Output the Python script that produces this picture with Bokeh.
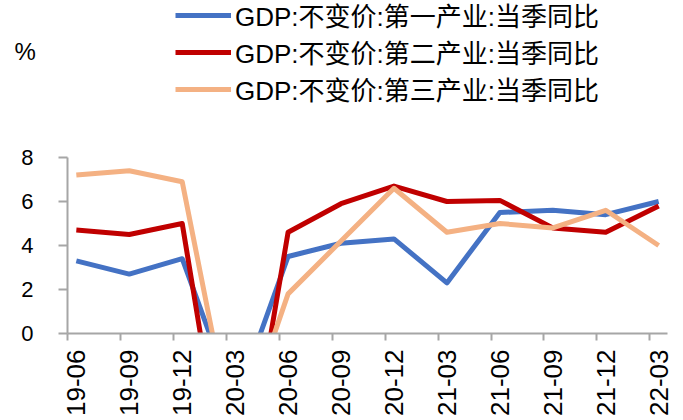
import math
from bokeh.plotting import figure
from bokeh.models import Range1d, FixedTicker, Legend, LegendItem, Label, BoxAnnotation
from bokeh.embed import file_html
from bokeh.resources import INLINE

# ---- data ----
quarters = ["19-06", "19-09", "19-12", "20-03", "20-06", "20-09",
            "20-12", "21-03", "21-06", "21-09", "21-12", "22-03"]
primary = [3.3, 2.7, 3.4, -3.2, 3.5, 4.1, 4.3, 2.3, 5.5, 5.6, 5.4, 6.0]
secondary = [4.7, 4.5, 5.0, -9.6, 4.6, 5.9, 6.7, 6.0, 6.05, 4.8, 4.6, 5.8]
tertiary = [7.2, 7.4, 6.9, -5.2, 1.8, 4.2, 6.6, 4.6, 5.0, 4.8, 5.6, 4.0]
names = ["GDP:不变价:第一产业:当季同比",
         "GDP:不变价:第二产业:当季同比",
         "GDP:不变价:第三产业:当季同比"]
colors = ["#4472C4", "#C00000", "#F4B183"]
y_ticks = [0, 2, 4, 6, 8]
y_min, y_max = 0, 8
unit = "%"

# month axis: each quarter spans 3 months, point in middle of its month
x = [i * 3 + 0.5 for i in range(len(quarters))]
boundaries = [i * 3 for i in range(len(quarters))]
x_end = len(quarters) * 3 - 2

FONT = "Liberation Sans, Noto Sans CJK SC"

p = figure(width=683, height=420, output_backend="svg", toolbar_location=None,
           x_range=Range1d(-3.797, 34.907),
           y_range=Range1d(-3.955, 15.136),
           min_border=0)
p.outline_line_color = None
p.xgrid.grid_line_color = None
p.ygrid.grid_line_color = None
p.background_fill_color = "white"
p.border_fill_color = "white"

renderers = []
for series, col in zip([primary, secondary, tertiary], colors):
    r = p.line(x, series, line_color=col, line_width=5, line_join="round")
    renderers.append(r)

# values below the axis minimum are hidden, as in the original chart
p.add_layout(BoxAnnotation(top=y_min, fill_color="white", fill_alpha=1,
                           line_color=None, level="glyph"))

# x axis at y = 0
p.xaxis.fixed_location = y_min
p.xaxis.bounds = (0, x_end)
p.xaxis.ticker = FixedTicker(ticks=x, minor_ticks=boundaries)
p.xaxis.major_label_overrides = {xx: q for xx, q in zip(x, quarters)}
p.xaxis.major_label_orientation = math.pi / 2
p.xaxis.major_tick_line_color = None
p.xaxis.major_tick_out = 0
p.xaxis.major_tick_in = 0
p.xaxis.minor_tick_line_color = "#A6A6A6"
p.xaxis.minor_tick_line_width = 2
p.xaxis.minor_tick_out = 7
p.xaxis.minor_tick_in = 0
p.xaxis.axis_line_color = "#A6A6A6"
p.xaxis.axis_line_width = 2
p.xaxis.major_label_text_font = FONT
p.xaxis.major_label_text_font_size = "26px"
p.xaxis.major_label_text_color = "black"
p.xaxis.major_label_standoff = 9

# y axis at x = 0
p.yaxis.fixed_location = 0
p.yaxis.bounds = (y_min, y_max)
p.yaxis.ticker = FixedTicker(ticks=y_ticks, minor_ticks=[])
p.yaxis.major_tick_line_color = "#A6A6A6"
p.yaxis.major_tick_line_width = 2
p.yaxis.major_tick_out = 9
p.yaxis.major_tick_in = 0
p.yaxis.axis_line_color = "#A6A6A6"
p.yaxis.axis_line_width = 2
p.yaxis.major_label_text_font = FONT
p.yaxis.major_label_text_font_size = "22px"
p.yaxis.major_label_text_color = "black"
p.yaxis.major_label_standoff = 25

legend = Legend(items=[LegendItem(label=n, renderers=[r]) for n, r in zip(names, renderers)],
                location=(175, 313), orientation="vertical",
                label_text_font=FONT, label_text_font_size="26px",
                label_text_color="black",
                glyph_width=56, glyph_height=20, label_height=20,
                spacing=-3, padding=0, margin=0, label_standoff=4,
                border_line_alpha=0, background_fill_alpha=0)
p.add_layout(legend)

p.add_layout(Label(x=-3.003, y=12.82, text=unit,
                   text_font=FONT, text_font_size="24px", text_color="black",
                   text_baseline="middle", text_align="left"))

open("out.html", "w").write(file_html(p, INLINE))
